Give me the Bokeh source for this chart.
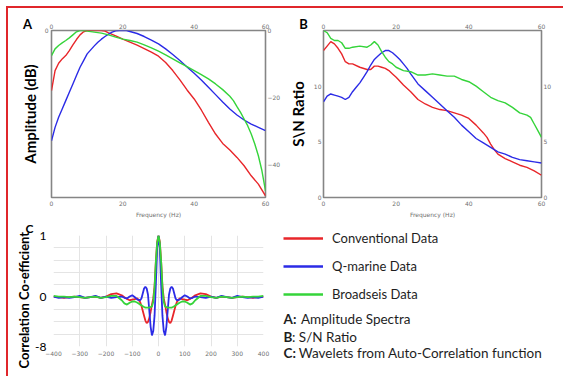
from bokeh.plotting import figure
from bokeh.models import FixedTicker, LinearAxis, Range1d, Label, Legend, LegendItem, Title
from bokeh.layouts import column, row
from bokeh.embed import file_html
from bokeh.resources import INLINE

# ---------------- data ----------------
freq_ticks = [0, 20, 40, 60]
amp_ticks = [0, -20, -40]
snr_ticks = [0, 5, 10]
lag_ticks = [-400, -300, -200, -100, 0, 100, 200, 300, 400]
corr_ticks = [-0.8, 0, 1]
corr_tick_labels = ["-8", "0", "1"]
corr_grid = [-0.8, -0.6, -0.4, -0.2, 0, 0.2, 0.4, 0.6, 0.8, 1.0]

series_names = ["Conventional Data", "Q-marine Data", "Broadseis Data"]
notes = [("A:", "Amplitude Spectra"), ("B", ": S/N Ratio"), ("C:", "Wavelets from Auto-Correlation function")]

# A: amplitude spectra (dB)
a_red_f = [0, 1, 2, 3, 4, 5, 6, 7, 8, 9, 10, 12, 14, 15, 16, 18, 20, 22, 24, 26, 28, 30, 32, 34, 36, 38, 40, 42, 44, 46, 48, 50, 52, 54, 56, 58, 60]
a_red = [-18, -12, -9.8, -8.5, -7.5, -6, -4.3, -2.7, -1.3, -0.4, 0, 0, 0, -0.2, -0.7, -1.6, -2.6, -3.5, -4.4, -5.4, -6.5, -7.7, -9.6, -12, -14.8, -17.8, -20.5, -23.8, -27.5, -31, -33.8, -35.8, -38, -40.5, -43.5, -46, -49.5]
a_blue_f = [0, 1, 2, 3, 4, 5, 6, 7, 8, 9, 10, 11, 12, 13, 14, 15, 16, 17, 18, 19, 20, 21, 22, 24, 26, 28, 30, 32, 34, 36, 38, 40, 42, 44, 46, 48, 50, 52, 54, 56, 58, 60]
a_blue = [-33, -29, -26, -23.5, -21, -18.5, -16, -13.5, -11, -9, -7, -5.8, -4.6, -3.5, -2.6, -1.8, -1.1, -0.5, -0.1, 0, 0, 0, -0.3, -0.9, -1.8, -2.9, -4.0, -5.5, -7.2, -9.0, -10.9, -12.8, -14.8, -17.0, -19.2, -21.4, -23.5, -25.3, -26.8, -28.0, -29.0, -30.0]
a_green_f = [0, 1, 2, 3, 4, 5, 6, 7, 8, 9, 10, 12, 14, 16, 18, 20, 22, 24, 26, 28, 30, 32, 34, 36, 38, 40, 42, 44, 46, 48, 50, 51, 52, 53, 54, 55, 56, 57, 58, 59, 60]
a_green = [-7.5, -5.5, -4.5, -3.7, -3, -2.2, -1.3, -0.4, 0, 0, -0.2, -0.5, -0.8, -1.3, -2, -2.6, -3, -3.5, -4.3, -5.2, -6.2, -7.3, -8.5, -9.7, -10.8, -12, -13.2, -14.5, -16, -17.7, -19.7, -21, -22.8, -24.5, -26.5, -28.5, -31, -34, -37.5, -42, -48]

# B: S/N ratio
b_red_f = [0, 1, 2, 3, 4, 5, 6, 7, 8, 10, 12, 13, 14, 15, 16, 17, 18, 19, 20, 22, 24, 26, 28, 30, 32, 34, 36, 38, 40, 42, 44, 45, 46, 47, 48, 50, 52, 54, 56, 58, 60]
b_red = [13.2, 13.6, 14.0, 13.8, 13.4, 12.9, 12.2, 12.0, 12.0, 11.7, 11.5, 11.5, 11.8, 11.8, 11.7, 11.6, 11.4, 11.1, 10.8, 10.1, 9.5, 8.8, 8.4, 8.1, 7.9, 7.8, 7.6, 7.4, 7.1, 6.5, 5.8, 5.4, 4.8, 4.3, 3.9, 3.5, 3.2, 2.9, 2.7, 2.4, 2.0]
b_blue_f = [0, 1, 2, 3, 4, 5, 6, 7, 8, 9, 10, 11, 12, 13, 14, 15, 16, 17, 18, 19, 20, 21, 22, 23, 24, 26, 28, 30, 32, 34, 36, 38, 40, 42, 44, 46, 48, 50, 52, 54, 56, 58, 60]
b_blue = [8.6, 9.1, 9.3, 9.2, 9.1, 9.0, 8.8, 9.0, 9.5, 9.9, 10.3, 10.8, 11.3, 11.9, 12.4, 12.7, 13.0, 13.2, 13.2, 13.0, 12.7, 12.4, 12.0, 11.6, 11.1, 10.2, 9.6, 9.0, 8.4, 7.8, 7.2, 6.5, 5.9, 5.3, 4.9, 4.5, 4.1, 3.9, 3.6, 3.4, 3.3, 3.2, 3.1]
b_green_f = [0, 1, 2, 3, 4, 5, 6, 7, 8, 10, 12, 13, 14, 15, 16, 17, 18, 19, 20, 22, 24, 26, 28, 30, 32, 34, 36, 38, 40, 42, 44, 46, 48, 50, 52, 54, 56, 57, 58, 59, 60]
b_green = [15.0, 14.8, 14.3, 14.1, 14.1, 13.9, 13.4, 13.4, 13.5, 13.6, 13.5, 13.7, 14.0, 13.7, 13.1, 12.6, 12.2, 12.0, 11.7, 11.4, 11.3, 11.0, 11.0, 11.1, 11.0, 10.9, 10.9, 10.6, 10.4, 10.0, 9.5, 9.0, 8.7, 8.5, 8.1, 7.6, 7.4, 7.2, 6.6, 6.0, 5.4]

# C: auto-correlation wavelets
lag = [-400, -380, -360, -340, -320, -300, -280, -260, -240, -220, -200, -180, -160, -140,
       -130, -120, -110, -100, -90, -80, -70,
       -65, -60, -55, -50, -45, -40, -35, -30, -25, -20, -15, -10, -5, 0,
       5, 10, 15, 20, 25, 30, 35, 40, 45, 50, 55, 60, 65,
       70, 80, 90, 100, 110, 120, 130, 140,
       160, 180, 200, 220, 240, 260, 280, 300, 320, 340, 360, 380, 400]
c_red = [0.01, 0.0, -0.01, 0.0, 0.01, 0.0, -0.01, 0.0, 0.01, -0.01, 0.01, 0.05, 0.06, 0.03,
         0.0, -0.03, -0.05, -0.04, -0.03, -0.02, -0.08,
         -0.14, -0.22, -0.3, -0.38, -0.42, -0.4, -0.34, -0.24, -0.12, -0.02, 0.18, 0.58, 0.9, 1.0,
         0.9, 0.58, 0.18, -0.02, -0.12, -0.24, -0.34, -0.4, -0.42, -0.38, -0.3, -0.22, -0.14,
         -0.08, -0.02, -0.03, -0.04, -0.05, -0.03, 0.0, 0.03,
         0.06, 0.05, 0.01, -0.01, 0.01, 0.0, -0.01, 0.0, 0.01, 0.0, -0.01, 0.0, 0.01]
c_blue = [0.01, -0.01, 0.0, -0.01, 0.0, 0.02, -0.01, 0.0, 0.02, -0.01, 0.01, -0.01, 0.0, 0.01,
          -0.01, -0.02, 0.01, 0.03, 0.0, -0.04, -0.05,
          -0.02, 0.06, 0.14, 0.17, 0.14, 0.04, -0.22, -0.48, -0.62, -0.55, -0.3, 0.22, 0.8, 1.0,
          0.8, 0.22, -0.3, -0.55, -0.62, -0.48, -0.22, 0.04, 0.14, 0.17, 0.14, 0.06, -0.02,
          -0.05, -0.04, 0.0, 0.03, 0.01, -0.02, -0.01, 0.01,
          0.0, -0.01, 0.01, -0.01, 0.02, 0.0, -0.01, 0.02, 0.0, -0.01, 0.0, -0.01, 0.01]
c_green = [0.02, 0.01, 0.01, 0.0, 0.01, 0.0, -0.01, 0.0, 0.01, -0.01, 0.0, 0.02, 0.02, -0.05,
           -0.1, -0.12, -0.09, -0.07, -0.07, -0.09, -0.12,
           -0.13, -0.15, -0.16, -0.17, -0.17, -0.17, -0.17, -0.16, -0.15, -0.08, 0.15, 0.58, 0.88, 1.0,
           0.88, 0.58, 0.15, -0.08, -0.15, -0.16, -0.17, -0.17, -0.17, -0.17, -0.16, -0.15, -0.13,
           -0.12, -0.09, -0.07, -0.07, -0.09, -0.12, -0.1, -0.05,
           0.02, 0.02, 0.0, -0.01, 0.01, 0.0, -0.01, 0.0, 0.01, 0.0, 0.01, 0.01, 0.02]

legend_dummy = [float("nan")]

# ---------------- style ----------------
RED = "#e8262a"
BLUE = "#2b2be6"
GREEN = "#35d43a"
BORDER_RED = "#e0262b"
TICK_GRAY = "#707070"
TEXT = "#1e1e1e"
FONT = "Lato"


def style_axis(ax, ticks, standoff=2):
    ax.ticker = FixedTicker(ticks=ticks)
    ax.axis_line_color = None
    ax.major_tick_line_color = None
    ax.minor_tick_line_color = None
    ax.major_tick_out = 0
    ax.major_tick_in = 0
    ax.minor_tick_out = 0
    ax.minor_tick_in = 0
    ax.major_label_text_font = "DejaVu Sans"
    ax.major_label_text_font_size = "6px"
    ax.major_label_text_color = TICK_GRAY
    ax.major_label_standoff = standoff


def spectrum_panel(w, lb, rb, yr, left_ticks, right_ticks, ylabel, ylabel_standoff, left_standoff):
    p = figure(width=w, height=212, x_range=Range1d(0, 60), y_range=Range1d(*yr),
               output_backend="svg", toolbar_location=None, frame_align=False,
               min_border_left=lb, min_border_right=rb, min_border_top=22, min_border_bottom=23)
    p.grid.visible = False
    p.outline_line_color = "#858585"
    p.outline_line_width = 1.6
    p.add_layout(LinearAxis(), "above")
    p.add_layout(LinearAxis(), "right")
    style_axis(p.below[0], freq_ticks, 3)
    style_axis(p.above[0], freq_ticks, 2)
    style_axis(p.left[0], left_ticks, left_standoff)
    style_axis(p.right[0], right_ticks, 2)
    ax = p.below[0]
    ax.axis_label = "Frequency (Hz)"
    ax.axis_label_text_font = "DejaVu Sans"
    ax.axis_label_text_font_size = "6px"
    ax.axis_label_text_font_style = "normal"
    ax.axis_label_text_color = TICK_GRAY
    ax.axis_label_standoff = 2
    ly = p.left[0]
    ly.axis_label = ylabel
    ly.axis_label_text_font = FONT
    ly.axis_label_text_font_size = "15px"
    ly.axis_label_text_font_style = "bold"
    ly.axis_label_text_color = "black"
    ly.axis_label_standoff = ylabel_standoff
    return p


def letter(text, x, y, size="13px"):
    return Label(x=x, y=y, x_units="canvas", y_units="canvas", text=text,
                 text_font=FONT, text_font_size=size, text_font_style="bold",
                 text_align="center", text_baseline="middle", text_color="black")


# Panel A
pA = spectrum_panel(275, 41, 15, (-50, 0), [0], amp_ticks, "Amplitude (dB)", 3, 3)
pA.line(a_red_f, a_red, line_color=RED, line_width=1.4)
pA.line(a_blue_f, a_blue, line_color=BLUE, line_width=1.4)
pA.line(a_green_f, a_green, line_color=GREEN, line_width=1.4)
pA.add_layout(letter("A", 19, 15), "left")

# Panel B
pB = spectrum_panel(280, 40, 20, (0, 15), snr_ticks, snr_ticks, "S\\N Ratio", 4, 2)
pB.line(b_red_f, b_red, line_color=RED, line_width=1.4)
pB.line(b_blue_f, b_blue, line_color=BLUE, line_width=1.4)
pB.line(b_green_f, b_green, line_color=GREEN, line_width=1.4)
pB.add_layout(letter("B", 20, 15), "right")

# Panel C
pC = figure(width=272, height=156, x_range=Range1d(-400, 400), y_range=Range1d(-0.8, 1.0),
            output_backend="svg", toolbar_location=None, frame_align=False,
            min_border_left=45, min_border_right=17, min_border_top=15, min_border_bottom=30)
pC.outline_line_color = None
style_axis(pC.xaxis[0], lag_ticks, 4)
style_axis(pC.yaxis[0], corr_ticks, 7)
yC = pC.yaxis[0]
yC.major_label_overrides = {t: s for t, s in zip(corr_ticks, corr_tick_labels)}
yC.major_label_text_font = FONT
yC.major_label_text_font_size = "12px"
yC.major_label_text_color = "black"
pC.xgrid.ticker = FixedTicker(ticks=lag_ticks)
pC.ygrid.ticker = FixedTicker(ticks=corr_grid)
pC.grid.grid_line_color = "#e4e4e4"
pC.grid.grid_line_width = 1

pC.line(lag, c_red, line_color=RED, line_width=1.8)
pC.line(lag, c_blue, line_color=BLUE, line_width=1.8)
pC.line(lag, c_green, line_color=GREEN, line_width=1.8)
pC.add_layout(Title(text="Correlation Co-efficient", align="left", offset=-22, standoff=2,
                    text_font=FONT, text_font_size="13px", text_font_style="bold",
                    text_color="black"), "left")
pC.add_layout(letter("C", 21, 8, "12px"), "above")

# Legend / notes panel
pL = figure(width=275, height=156, x_range=Range1d(0, 1), y_range=Range1d(0, 1),
            output_backend="svg", toolbar_location=None, frame_align=False,
            min_border_left=0, min_border_right=0, min_border_top=0, min_border_bottom=0)
pL.axis.visible = False
pL.grid.visible = False
pL.outline_line_color = None
lr = pL.line(legend_dummy, legend_dummy, line_color=RED, line_width=2.4)
lb_ = pL.line(legend_dummy, legend_dummy, line_color=BLUE, line_width=2.4)
lg = pL.line(legend_dummy, legend_dummy, line_color=GREEN, line_width=2.4)
legend = Legend(items=[LegendItem(label=series_names[0], renderers=[lr]),
                       LegendItem(label=series_names[1], renderers=[lb_]),
                       LegendItem(label=series_names[2], renderers=[lg])],
                location=(3, 74), glyph_width=40, glyph_height=16, label_height=16,
                spacing=12, label_standoff=9, padding=0, margin=0,
                border_line_color=None, background_fill_alpha=0,
                label_text_font=FONT, label_text_font_size="13px", label_text_color=TEXT)
pL.add_layout(legend)

note_x_bold = 3
note_x_text = [20.5, 11.5, 18.3]
note_y = [58, 40, 24]
for (b, t), xt, yy in zip(notes, note_x_text, note_y):
    pL.add_layout(Label(x=note_x_bold, y=yy, x_units="screen", y_units="screen", text=b,
                        text_font=FONT, text_font_size="13.5px", text_font_style="bold",
                        text_baseline="middle", text_color=TEXT))
    pL.add_layout(Label(x=xt, y=yy, x_units="screen", y_units="screen", text=t,
                        text_font=FONT, text_font_size="13.5px",
                        text_baseline="middle", text_color=TEXT))

layout = column(row(pA, pB), row(pC, pL),
                styles={"margin-top": "6px", "margin-left": "6px",
                        "border-top": "2px solid " + BORDER_RED,
                        "border-left": "2px solid " + BORDER_RED})

open("out.html", "w").write(file_html(layout, INLINE))
